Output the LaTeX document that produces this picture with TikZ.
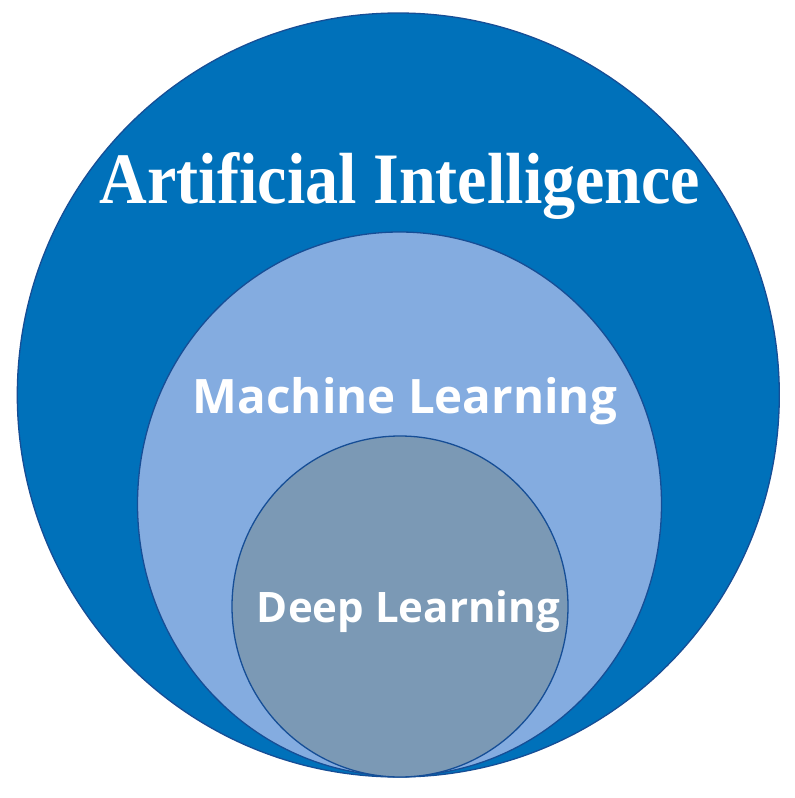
\documentclass[tikz,border=0pt]{standalone}
\usepackage{fontspec}
\usepackage{graphicx}
\setmainfont{Liberation Serif}
\setsansfont{Open Sans}
\definecolor{aiblue}{RGB}{0,113,186}
\definecolor{mlblue}{RGB}{132,172,224}
\definecolor{dlgray}{RGB}{123,153,181}
\definecolor{edgeblue}{RGB}{22,78,150}
\tikzset{
  ring/.style={draw=edgeblue, line width=1.3pt},
  lbl/.style={text=white, inner sep=0pt, anchor=base}
}
\begin{document}
\begin{tikzpicture}[x=1pt,y=-1pt]
\useasboundingbox (0,0) rectangle (795,798);
\fill[white] (0,0) rectangle (795,798);
\draw[ring, fill=aiblue] (398.3,395) ellipse [x radius=381, y radius=382];
\draw[ring, fill=mlblue] (399.5,504) ellipse [x radius=262, y radius=272];
\draw[ring, fill=dlgray] (400,606.5) ellipse [x radius=168, y radius=170.5];
\node[lbl] (ai) at (400,203) {\resizebox{600pt}{51pt}{\rmfamily\bfseries Artificial Intelligence}};
\node[lbl] (ml) at (405,413) {\resizebox{424pt}{!}{\sffamily\bfseries Machine Learning}};
\node[lbl] (dl) at (408.5,622) {\resizebox{303pt}{!}{\sffamily\bfseries Deep Learning}};
\end{tikzpicture}
\end{document}
